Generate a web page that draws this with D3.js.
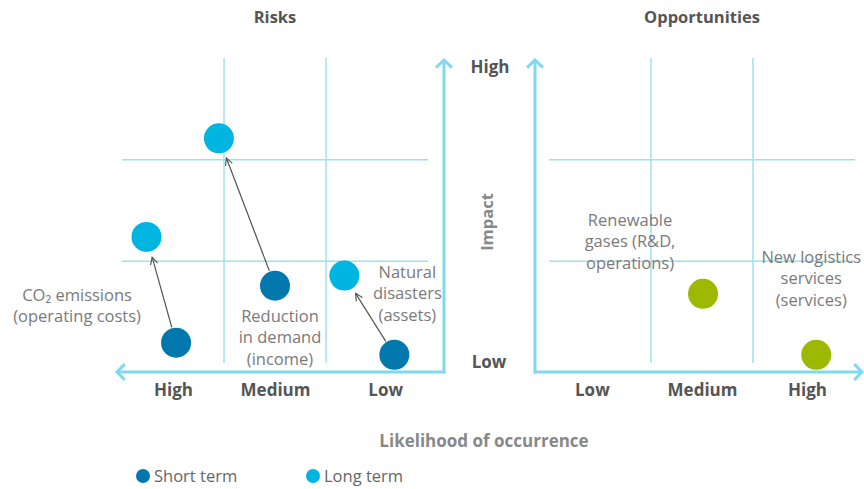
<!DOCTYPE html>
<html>
<head>
<meta charset="utf-8">
<script src="https://cdn.jsdelivr.net/npm/d3@7"></script>
<style>
  body { margin: 0; background: #fff; }
  svg { display: block; font-family: "Open Sans", "Noto Sans", sans-serif; }
</style>
</head>
<body>
<svg id="main" width="864" height="489"></svg>
<script>
// likelihood categories, impact categories
var likelihood = ["Low", "Medium", "High"];
var impactLevels = ["Low", "High"];

// risks: position on a 0..3 scale (likelihood, impact)
var riskLabels = [["CO\u2082 emissions", "(operating costs)"], ["Reduction", "in demand", "(income)"], ["Natural", "disasters", "(assets)"]];
var riskShortLik = [2.47, 1.5, 0.33];
var riskShortImp = [0.2, 0.76, 0.08];
var riskLongLik = [2.76, 2.05, 0.82];
var riskLongImp = [1.24, 2.21, 0.86];

// opportunities
var oppLabels = [["Renewable", "gases (R&D,", "operations)"], ["New logistics", "services", "(services)"]];
var oppLik = [1.51, 2.62];
var oppImp = [0.68, 0.08];

var seriesNames = ["Short term", "Long term"];

var cShort = "#0078ae", cLong = "#00b5e0", cOpp = "#9cb800";
var axisCol = "#80d8ef", gridCol = "#9fe0f0";
var dark = "#555", mid = "#888", light = "#7a7a7a";

var svg = d3.select("#main");

var yScale = d3.scaleLinear().domain([0, 3]).range([363, 58]);
var xRisk = d3.scaleLinear().domain([3, 0]).range([122, 428]);   // reversed: High on the left
var xOpp = d3.scaleLinear().domain([0, 3]).range([549, 855]);

// open arrowhead marker for the annotation arrows
var defs = svg.append("defs");
defs.append("marker").attr("id", "tip")
    .attr("viewBox", "0 0 10 10").attr("refX", 9).attr("refY", 5)
    .attr("markerWidth", 9).attr("markerHeight", 9).attr("markerUnits", "userSpaceOnUse")
    .attr("orient", "auto")
  .append("path").attr("d", "M1,1 L9,5 L1,9").attr("fill", "none")
    .attr("stroke", "#555").attr("stroke-width", 1.3);

function grid(x){
    var g = svg.append("g");
    [1, 2].forEach(function(v){
        g.append("line").attr("x1", x(v)).attr("x2", x(v))
            .attr("y1", yScale(3)).attr("y2", yScale(0))
            .attr("stroke", gridCol).attr("stroke-width", 1.5);
        g.append("line").attr("x1", d3.min(x.range())).attr("x2", d3.max(x.range()))
            .attr("y1", yScale(v)).attr("y2", yScale(v))
            .attr("stroke", gridCol).attr("stroke-width", 1.5);
    });
}

function bigArrow(x1, y1, x2, y2){
    var a = Math.atan2(y2 - y1, x2 - x1), s = 11;
    var g = svg.append("g").attr("stroke", axisCol).attr("stroke-width", 3)
        .attr("fill", "none").attr("stroke-linecap", "butt");
    g.append("line").attr("x1", x1).attr("y1", y1).attr("x2", x2).attr("y2", y2);
    g.append("path").attr("d",
        "M" + (x2 - s * Math.cos(a - 0.8)) + "," + (y2 - s * Math.sin(a - 0.8)) +
        "L" + x2 + "," + y2 +
        "L" + (x2 - s * Math.cos(a + 0.8)) + "," + (y2 - s * Math.sin(a + 0.8)));
}

function tickLabels(x, names, vals){
    var ax = d3.axisBottom(x).tickValues(vals).tickSize(0).tickPadding(0)
        .tickFormat(function(d, i){ return names[i]; });
    var g = svg.append("g").attr("transform", "translate(0,380)").call(ax);
    g.select(".domain").remove();
    g.selectAll("text").attr("font-family", "Open Sans").attr("font-size", 17)
        .attr("font-weight", "bold").attr("fill", dark).attr("dy", "0.95em");
}

function labelBlock(cx, y0, lines){
    var t = svg.append("text").attr("text-anchor", "middle").attr("font-size", 16.5).attr("fill", light);
    lines.forEach(function(l, i){
        t.append("tspan").attr("x", cx).attr("y", y0 + i * 21.5).text(l);
    });
}

// ---- Risks panel ----
grid(xRisk);
var cornerL = [444, 372];
bigArrow(cornerL[0], cornerL[1] + 1.5, cornerL[0], 60);
bigArrow(cornerL[0] + 1.5, cornerL[1], 117, cornerL[1]);
tickLabels(xRisk, likelihood, [0.42, 1.5, 2.5]);

// annotation arrows short -> long
riskShortLik.forEach(function(d, i){
    var x1 = xRisk(d), y1 = yScale(riskShortImp[i]);
    var x2 = xRisk(riskLongLik[i]), y2 = yScale(riskLongImp[i]);
    var len = Math.hypot(x2 - x1, y2 - y1), ux = (x2 - x1) / len, uy = (y2 - y1) / len;
    svg.append("line")
        .attr("x1", x1 + ux * 16).attr("y1", y1 + uy * 16)
        .attr("x2", x2 - ux * 21).attr("y2", y2 - uy * 21)
        .attr("stroke", "#555").attr("stroke-width", 1.2)
        .attr("marker-end", "url(#tip)");
});

svg.append("g").selectAll("circle").data(riskShortLik).join("circle")
    .attr("cx", function(d){ return xRisk(d); })
    .attr("cy", function(d, i){ return yScale(riskShortImp[i]); })
    .attr("r", 15).attr("fill", cShort);
svg.append("g").selectAll("circle").data(riskLongLik).join("circle")
    .attr("cx", function(d){ return xRisk(d); })
    .attr("cy", function(d, i){ return yScale(riskLongImp[i]); })
    .attr("r", 15).attr("fill", cLong);

// label offsets relative to short-term point
var riskOff = [[-99, -42], [5, 36], [13, -77]];
riskLabels.forEach(function(lines, i){
    labelBlock(xRisk(riskShortLik[i]) + riskOff[i][0], yScale(riskShortImp[i]) + riskOff[i][1], lines);
});

// ---- Opportunities panel ----
grid(xOpp);
var cornerR = [535, 372];
bigArrow(cornerR[0], cornerR[1] + 1.5, cornerR[0], 60);
bigArrow(cornerR[0] - 1.5, cornerR[1], 862, cornerR[1]);
tickLabels(xOpp, likelihood, [0.42, 1.5, 2.53]);

svg.append("g").selectAll("circle").data(oppLik).join("circle")
    .attr("cx", function(d){ return xOpp(d); })
    .attr("cy", function(d, i){ return yScale(oppImp[i]); })
    .attr("r", 15).attr("fill", cOpp);

var oppOff = [[-73, -68], [-5, -92]];
oppLabels.forEach(function(lines, i){
    labelBlock(xOpp(oppLik[i]) + oppOff[i][0], yScale(oppImp[i]) + oppOff[i][1], lines);
});

// ---- titles & axis names ----
svg.append("text").attr("x", 275).attr("y", 23).attr("text-anchor", "middle")
    .attr("font-size", 16.5).attr("font-weight", "bold").attr("fill", dark).text("Risks");
svg.append("text").attr("x", 702).attr("y", 23).attr("text-anchor", "middle")
    .attr("font-size", 16.5).attr("font-weight", "bold").attr("fill", dark).text("Opportunities");

svg.append("text").attr("x", 490).attr("y", yScale(3) + 15).attr("text-anchor", "middle")
    .attr("font-size", 17).attr("font-weight", "bold").attr("fill", dark).text(impactLevels[1]);
svg.append("text").attr("x", 489).attr("y", yScale(0) + 5).attr("text-anchor", "middle")
    .attr("font-size", 17).attr("font-weight", "bold").attr("fill", dark).text(impactLevels[0]);
svg.append("text").attr("transform", "translate(492.5,222) rotate(-90)").attr("text-anchor", "middle")
    .attr("font-size", 16.5).attr("font-weight", "bold").attr("fill", mid).text("Impact");

svg.append("text").attr("x", 484).attr("y", 447).attr("text-anchor", "middle")
    .attr("font-size", 17).attr("font-weight", "bold").attr("fill", mid).text("Likelihood of occurrence");

// legend
var legX = [143, 313], legCol = [cShort, cLong];
seriesNames.forEach(function(n, i){
    svg.append("circle").attr("cx", legX[i]).attr("cy", 476).attr("r", 7).attr("fill", legCol[i]);
    svg.append("text").attr("x", legX[i] + 11).attr("y", 482).attr("font-size", 16.5)
        .attr("fill", "#666").text(n);
});
</script>
</body>
</html>
